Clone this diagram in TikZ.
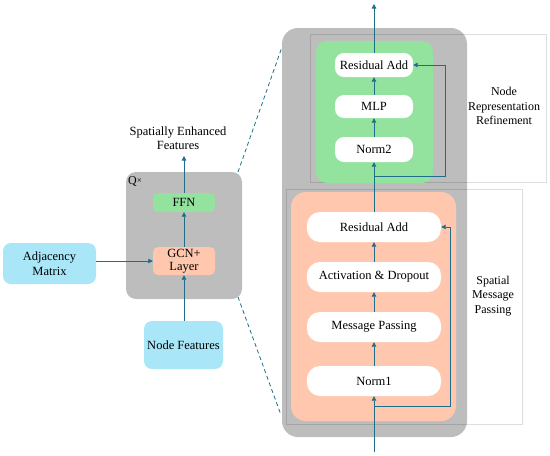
\documentclass[tikz,border=0pt]{standalone}
\usepackage{fontspec}
\setmainfont{Liberation Serif}
\usetikzlibrary{arrows.meta}
\definecolor{arrc}{HTML}{1E6E8A}
\definecolor{graybox}{HTML}{BDBDBD}
\definecolor{greenbox}{HTML}{93E29E}
\definecolor{orangebox}{HTML}{FFC8AE}
\definecolor{bluebox}{HTML}{A8E6F8}
\tikzset{
  arr/.style={draw=arrc, line width=0.8pt, -{Triangle[width=4.5pt,length=4.5pt]}},
  zoomline/.style={draw=arrc, line width=0.8pt, dashed, dash pattern=on 4pt off 3pt},
  framebox/.style={draw=black, draw opacity=0.13, line width=0.6pt},
  container/.style={fill=graybox, draw=none, rounded corners=12pt, inner sep=0pt},
  pill/.style={fill=white, draw=none, inner sep=0pt, font=\fontsize{12.5}{14}\selectfont},
  smallbox/.style={draw=none, inner sep=0pt, align=center, font=\fontsize{12.5}{14}\selectfont},
  lbl/.style={align=center, inner sep=0pt, font=\fontsize{12}{14.5}\selectfont},
}
\begin{document}
\begin{tikzpicture}[x=1pt,y=-1pt]
\useasboundingbox (0,0) rectangle (550,456);
% ---------- right big container ----------
\node[container, minimum width=185pt, minimum height=409pt, rounded corners=16pt] (bigbox) at (374.5,232.5) {};
% frames
\draw[framebox] (310,182) -- (310,34) -- (546,34) -- (546,182) -- (310,182);
\draw[framebox] (286,424) -- (286,189) -- (522,189) -- (522,424) -- (286,424);
\node[fill=greenbox, draw=none, rounded corners=11pt, minimum width=117pt, minimum height=142pt, inner sep=0pt] (greenarea) at (374.5,112) {};
\node[fill=orangebox, draw=none, rounded corners=15pt, minimum width=165pt, minimum height=229pt, inner sep=0pt] (orangearea) at (373.5,306.5) {};
% upper stack
\node[pill, rounded corners=9pt, minimum width=78pt, minimum height=24pt] (resA) at (374,65) {Residual Add};
\node[pill, rounded corners=9pt, minimum width=78pt, minimum height=23pt] (mlp) at (374,106.5) {MLP};
\node[pill, rounded corners=9pt, minimum width=78pt, minimum height=25pt] (norm2) at (374,149.5) {Norm2};
% lower stack
\node[pill, rounded corners=13pt, minimum width=134pt, minimum height=30pt] (resB) at (374,227) {Residual Add};
\node[pill, rounded corners=13pt, minimum width=134pt, minimum height=30pt] (act) at (374,277) {Activation \& Dropout};
\node[pill, rounded corners=13pt, minimum width=134pt, minimum height=30pt] (msg) at (374,327) {Message Passing};
\node[pill, rounded corners=13pt, minimum width=134pt, minimum height=30pt] (norm1) at (374,381) {Norm1};
% labels
\node[lbl] (nrr) at (504,106) {Node\\Representation\\Refinement};
\node[lbl] (smp) at (493,296) {Spatial\\Message\\Passing};
% connectors right
\coordinate (inR) at (374,452);
\coordinate (outR) at (374,4);
\coordinate (fbB) at (374,406);
\coordinate (fbBr) at (450,406);
\coordinate (fbA) at (374,176);
\coordinate (fbAr) at (445,176);
\draw[arr] (inR) -- (norm1.south);
\draw[arr] (norm1.north) -- (msg.south);
\draw[arr] (msg.north) -- (act.south);
\draw[arr] (act.north) -- (resB.south);
\draw[arr] (resB.north) -- (norm2.south);
\draw[arr] (norm2.north) -- (mlp.south);
\draw[arr] (mlp.north) -- (resA.south);
\draw[arr] (resA.north) -- (outR);
\draw[arr] (fbB) -- (fbBr) |- (resB.east);
\draw[arr] (fbA) -- (fbAr) |- (resA.east);
% ---------- left part ----------
\node[container, rounded corners=10pt, minimum width=116pt, minimum height=127pt] (leftbox) at (184,235.5) {};
\node[inner sep=0pt, anchor=north west, font=\fontsize{12}{13}\selectfont] (qx) at (128,176) {Q\raisebox{0.5pt}{\fontsize{9}{9}\selectfont ×}};
\node[smallbox, fill=greenbox, rounded corners=5pt, minimum width=62pt, minimum height=19pt] (ffn) at (184,202.5) {FFN};
\node[smallbox, fill=orangebox, rounded corners=5pt, minimum width=62pt, minimum height=28pt, font=\fontsize{12.5}{13}\selectfont] (gcn) at (184,261) {GCN+\\Layer};
\node[smallbox, fill=bluebox, rounded corners=8pt, minimum width=93pt, minimum height=41pt, font=\fontsize{12.5}{15}\selectfont] (adj) at (49.5,263.5) {Adjacency\\Matrix};
\node[smallbox, fill=bluebox, rounded corners=8pt, minimum width=79pt, minimum height=48pt] (nf) at (183.5,345) {Node Features};
\node[lbl, font=\fontsize{12.5}{14.5}\selectfont] (sef) at (178,138) {Spatially Enhanced\\Features};
\coordinate (outL) at (184,156);
\draw[arr] (adj.east |- gcn.west) -- (gcn.west);
\draw[arr] (nf.north -| gcn.south) -- (gcn.south);
\draw[arr] (gcn.north) -- (ffn.south);
\draw[arr] (ffn.north) -- (outL);
% zoom lines
\coordinate (zA1) at (238,172);
\coordinate (zA2) at (282,47);
\coordinate (zB1) at (238,297);
\coordinate (zB2) at (281,415);
\draw[zoomline] (zA1) -- (zA2);
\draw[zoomline] (zB1) -- (zB2);
\end{tikzpicture}
\end{document}
